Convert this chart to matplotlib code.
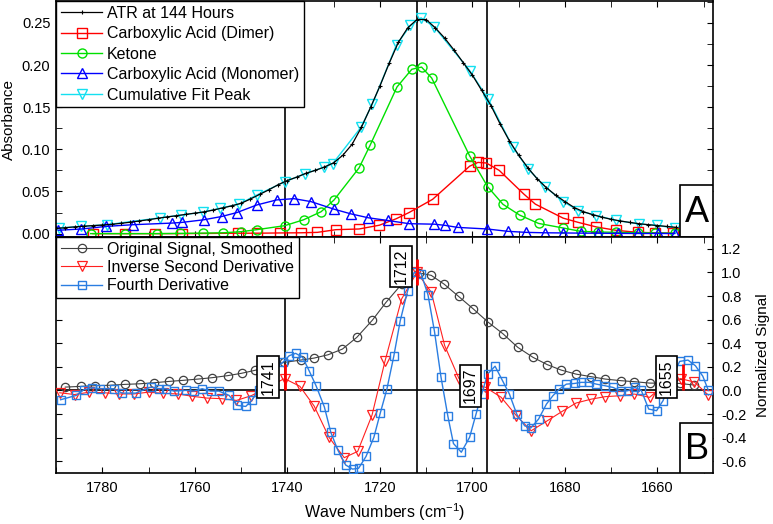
import matplotlib
matplotlib.use("Agg")
import matplotlib.pyplot as plt
from matplotlib.patches import Rectangle
from matplotlib.ticker import MultipleLocator

plt.rcParams["font.family"] = ["Liberation Sans", "DejaVu Sans"]
plt.rcParams["axes.unicode_minus"] = False
plt.rcParams["mathtext.fontset"] = "custom"
plt.rcParams["mathtext.rm"] = "Liberation Sans"
plt.rcParams["mathtext.default"] = "regular"

# ---------------- Panel A: ATR spectrum and peak fit ----------------
ATR_WN = [1790, 1788, 1786, 1784, 1782, 1780, 1778, 1776, 1774, 1772,
          1770, 1768, 1766, 1764, 1762, 1760, 1758, 1756, 1754, 1752,
          1750, 1748, 1746, 1744, 1742, 1740, 1738, 1736, 1734, 1732,
          1730, 1728, 1726, 1724, 1722, 1720, 1718, 1716, 1714, 1712,
          1710, 1708, 1706, 1704, 1702, 1700, 1698, 1696, 1694, 1692,
          1690, 1688, 1686, 1684, 1682, 1680, 1678, 1676, 1674, 1672,
          1670, 1668, 1666, 1664, 1662, 1660, 1658, 1656]
ATR_ABS = [0.0062, 0.0070, 0.0080, 0.0088, 0.0095, 0.0102, 0.0110, 0.0122, 0.0135, 0.0150,
           0.0165, 0.0182, 0.0198, 0.0212, 0.0228, 0.0243, 0.0258, 0.0280, 0.0305, 0.0330,
           0.0360, 0.0410, 0.0465, 0.0520, 0.0580, 0.0630, 0.0670, 0.0715, 0.0750, 0.0790,
           0.0840, 0.0930, 0.1060, 0.1260, 0.1500, 0.1750, 0.2020, 0.2270, 0.2440, 0.2540,
           0.2540, 0.2440, 0.2320, 0.2180, 0.2030, 0.1880, 0.1700, 0.1520, 0.1300, 0.1100,
           0.0930, 0.0780, 0.0650, 0.0545, 0.0455, 0.0380, 0.0310, 0.0260, 0.0225, 0.0195,
           0.0170, 0.0150, 0.0133, 0.0118, 0.0106, 0.0096, 0.0085, 0.0075]

DIMER_WN = [1782.0, 1775.1, 1768.6, 1762.8, 1750.6, 1746.6, 1741.6, 1737.1, 1733.5, 1729.5,
            1724.5, 1720.1, 1716.5, 1713.7, 1708.6, 1700.6, 1698.8, 1697.0, 1694.2, 1688.9,
            1686.4, 1680.4, 1677.1, 1673.2, 1668.9, 1664.2, 1660.6, 1656.6]
DIMER_ABS = [0.0, 0.0, 0.0, 0.0, 0.0005, 0.0005, 0.0008, 0.001, 0.0015, 0.0047,
             0.0055, 0.010, 0.0176, 0.025, 0.0407, 0.080, 0.0845, 0.0838, 0.075, 0.047,
             0.035, 0.0184, 0.0133, 0.0079, 0.0039, 0.0015, 0.001, 0.0005]

KETONE_WN = [1782.5, 1775.1, 1768.2, 1763.1, 1758.2, 1753.8, 1750.0, 1746.6, 1740.6, 1736.5,
             1732.7, 1729.9, 1724.5, 1722.1, 1716.3, 1713.1, 1711.0, 1708.8, 1700.6, 1696.7,
             1693.4, 1689.8, 1685.7, 1680.4, 1676.6, 1672.9, 1668.9, 1664.2, 1660.6, 1656.3]
KETONE_ABS = [0.0, 0.0, 0.0, 0.0003, 0.0006, 0.001, 0.0023, 0.0047, 0.0094, 0.0164,
              0.026, 0.040, 0.078, 0.105, 0.174, 0.195, 0.1976, 0.1846, 0.0923, 0.0556,
              0.0348, 0.022, 0.0121, 0.0067, 0.0027, 0.002, 0.0015, 0.001, 0.0008, 0.0005]

MONOMER_WN = [1789.5, 1784.5, 1779.1, 1773.3, 1765.0, 1762.8, 1758.1, 1754.2, 1750.9, 1746.6,
              1742.3, 1738.6, 1734.9, 1729.9, 1726.3, 1722.5, 1718.3, 1713.7, 1708.2, 1705.9,
              1703.2, 1696.8, 1692.3, 1688.4, 1684.4, 1680.4, 1676.5, 1672.9, 1668.5, 1664.2,
              1659.9, 1656.3]
MONOMER_ABS = [0.004, 0.0055, 0.0086, 0.0106, 0.0125, 0.0133, 0.0164, 0.0203, 0.025, 0.034,
               0.040, 0.0415, 0.038, 0.029, 0.0235, 0.0188, 0.0156, 0.0118, 0.0112, 0.0098,
               0.0074, 0.0055, 0.0027, 0.0015, 0.001, 0.0008, 0.0006, 0.0005, 0.0003, 0.0002,
               0.0002, 0.0001]

CUMUL_WN = [1789.4, 1784.6, 1779.0, 1767.6, 1763.0, 1758.2, 1754.6, 1750.5, 1746.6, 1740.6,
            1736.1, 1732.0, 1730.2, 1724.1, 1721.6, 1716.4, 1713.4, 1711.1, 1708.2, 1700.6,
            1696.6, 1691.3, 1688.0, 1684.3, 1680.4, 1677.1, 1673.2, 1668.9, 1663.9, 1660.2,
            1656.3]
CUMUL_ABS = [0.0067, 0.0086, 0.0106, 0.0187, 0.022, 0.0255, 0.030, 0.035, 0.0458, 0.0614,
             0.0712, 0.079, 0.083, 0.126, 0.154, 0.224, 0.247, 0.256, 0.245, 0.1935,
             0.1598, 0.103, 0.077, 0.0556, 0.038, 0.0274, 0.0215, 0.0156, 0.0114, 0.0098,
             0.0067]

# ---------------- Panel B: smoothed signal and derivatives ----------------
SMOOTH_WN = [1788.0, 1784.7, 1781.5, 1778.2, 1775.1, 1771.9, 1768.8, 1765.6, 1762.6, 1759.3,
             1756.2, 1752.9, 1749.9, 1747.0, 1743.8, 1740.7, 1737.1, 1734.2, 1731.2, 1728.1,
             1725.0, 1721.6, 1718.7, 1715.3, 1711.5, 1708.9, 1706.1, 1703.0, 1699.8, 1696.6,
             1693.4, 1690.2, 1686.9, 1683.8, 1680.8, 1677.6, 1674.3, 1671.3, 1667.8, 1665.0,
             1661.7, 1658.5, 1655.2, 1652.0]
SMOOTH_SIG = [0.028, 0.034, 0.040, 0.044, 0.051, 0.056, 0.065, 0.076, 0.085, 0.096,
              0.108, 0.125, 0.145, 0.170, 0.205, 0.237, 0.257, 0.274, 0.302, 0.350,
              0.449, 0.596, 0.745, 0.900, 0.995, 0.975, 0.900, 0.797, 0.690, 0.578,
              0.480, 0.365, 0.280, 0.218, 0.172, 0.138, 0.116, 0.096, 0.082, 0.074,
              0.062, 0.060, 0.059, 0.045]

D2_WN = [1789.2, 1786.0, 1782.8, 1779.5, 1776.3, 1773.2, 1770.0, 1766.9, 1763.7, 1760.5,
         1757.4, 1754.2, 1751.0, 1747.8, 1744.2, 1740.6, 1737.3, 1734.2, 1731.0, 1727.7,
         1724.8, 1721.7, 1718.9, 1715.3, 1712.0, 1708.9, 1706.0, 1702.9, 1700.0, 1697.2,
         1693.8, 1690.5, 1687.3, 1683.8, 1680.6, 1677.6, 1674.3, 1671.3, 1668.0, 1665.0,
         1661.7, 1658.5, 1655.0, 1652.0, 1649.0]
D2_SIG = [-0.020, -0.035, -0.015, -0.020, -0.030, -0.030, -0.015, -0.025, -0.030, -0.050,
          -0.065, -0.070, -0.085, -0.045, 0.030, 0.100, 0.035, -0.133, -0.397, -0.570,
          -0.517, -0.210, 0.247, 0.775, 1.000, 0.833, 0.380, 0.100, 0.050, 0.027,
          -0.058, -0.214, -0.342, -0.257, -0.178, -0.107, -0.074, -0.053, -0.045, -0.031,
          -0.059, 0.050, 0.100, 0.070, -0.040]

D4_WN = [1789.0, 1785.6, 1784.0, 1782.2, 1780.4, 1777.5, 1775.7, 1772.8, 1769.5, 1767.7,
         1766.3, 1764.5, 1762.0, 1760.2, 1758.4, 1756.6, 1754.8, 1752.6, 1750.8, 1749.0,
         1747.7, 1746.2, 1744.6, 1742.8, 1741.0, 1739.6, 1738.2, 1736.7, 1735.3, 1733.8,
         1732.0, 1730.6, 1729.1, 1727.4, 1725.9, 1724.6, 1723.0, 1721.3, 1719.9, 1718.5,
         1717.0, 1715.6, 1714.0, 1712.6, 1711.1, 1709.6, 1708.2, 1706.8, 1705.3, 1704.1,
         1702.4, 1700.6, 1699.2, 1698.0, 1696.7, 1695.1, 1693.5, 1692.0, 1690.4, 1688.7,
         1687.4, 1685.7, 1684.0, 1682.6, 1681.2, 1679.7, 1677.9, 1676.5, 1674.7, 1673.2,
         1671.4, 1669.6, 1667.8, 1666.4, 1664.9, 1663.5, 1661.9, 1660.2, 1658.8, 1657.0,
         1655.2, 1653.4, 1651.8, 1650.2, 1649.0]
D4_SIG = [-0.079, -0.042, 0.006, 0.023, 0.014, 0.014, -0.023, -0.023, 0.028, 0.014,
          0.014, -0.006, 0.000, -0.006, 0.014, -0.006, -0.006, -0.042, -0.127, -0.136,
          -0.085, 0.000, 0.100, 0.180, 0.237, 0.294, 0.314, 0.280, 0.167, 0.040,
          -0.140, -0.356, -0.505, -0.632, -0.667, -0.660, -0.560, -0.398, -0.190, 0.008,
          0.288, 0.590, 0.845, 1.000, 0.990, 0.810, 0.500, 0.115, -0.220, -0.450,
          -0.524, -0.397, -0.198, -0.030, 0.140, 0.205, 0.083, -0.031, -0.203, -0.300,
          -0.319, -0.243, -0.116, -0.045, 0.011, 0.053, 0.059, 0.068, 0.068, 0.053,
          0.040, 0.025, -0.008, -0.003, 0.025, 0.000, -0.158, -0.172, -0.087, 0.100,
          0.246, 0.257, 0.209, 0.120, 0.000]

# identified peaks (position, second-derivative value, label)
PEAK_POS = [1740.6, 1711.9, 1696.9, 1654.5]
PEAK_SIG = [0.11, 1.00, 0.035, 0.11]
PEAK_LABEL_Y = [0.11, 1.05, 0.04, 0.11]
PEAK_LABELS = ["1741", "1712", "1697", "1655"]
GUIDE_LINES = [1740.6, 1711.9, 1696.9]

W, H = 773, 524
fig = plt.figure(figsize=(W / 100, H / 100), dpi=100)
left, right = 56 / W, 713 / W
ax1 = fig.add_axes([left, 1 - 237 / H, right - left, 236 / H])
ax2 = fig.add_axes([left, 1 - 473 / H, right - left, 236 / H], sharex=ax1)

# ---- top panel
mk = dict(mfc="none", ms=6.5, mew=1.0, lw=1.0)
for x in GUIDE_LINES:
    ax1.axvline(x, color="black", lw=1.2, zorder=1)
h_cum, = ax1.plot(CUMUL_WN, CUMUL_ABS, color="#14e0f0", marker="v", label="Cumulative Fit Peak", zorder=2, **mk)
h_atr, = ax1.plot(ATR_WN, ATR_ABS, color="black", marker="+", ms=3.5, mew=0.8, lw=0.9,
                  label="ATR at 144 Hours", zorder=3)
h_dim, = ax1.plot(DIMER_WN, DIMER_ABS, color="#ff0000", marker="s", label="Carboxylic Acid (Dimer)", zorder=2, **mk)
h_ket, = ax1.plot(KETONE_WN, KETONE_ABS, color="#00e000", marker="o", label="Ketone", zorder=2, **mk)
h_mon, = ax1.plot(MONOMER_WN, MONOMER_ABS, color="#0000ff", marker="^", label="Carboxylic Acid (Monomer)", zorder=2, **mk)

ax1.set_xlim(1790, 1648)
ax1.set_ylim(-0.004, 0.276)
ax1.yaxis.set_major_locator(MultipleLocator(0.05))
ax1.yaxis.set_minor_locator(MultipleLocator(0.025))
ax1.xaxis.set_major_locator(MultipleLocator(20))
ax1.xaxis.set_minor_locator(MultipleLocator(10))
ax1.yaxis.set_major_formatter(plt.FuncFormatter(lambda v, p: f"{v:.2f}"))
ax1.tick_params(which="both", direction="in", top=True, right=True, labelbottom=False,
                labelsize=10.5, pad=4)
ax1.tick_params(which="major", length=4)
ax1.tick_params(which="minor", length=4)
ax1.set_ylabel("Absorbance", fontsize=11)

leg1 = ax1.legend(handles=[h_atr, h_dim, h_ket, h_mon, h_cum], loc="upper left",
                  bbox_to_anchor=(0, 1), borderaxespad=0, fontsize=11.5, frameon=True,
                  fancybox=False, framealpha=1, edgecolor="black", handlelength=2.6,
                  handletextpad=0.3, borderpad=0.3, labelspacing=0.34)
leg1.get_frame().set_linewidth(1.0)
leg1.set_zorder(6)

ax1.add_patch(Rectangle((0.950, 0.0), 0.05, 0.219, transform=ax1.transAxes,
                        facecolor="white", edgecolor="black", lw=1.2, zorder=7))
ax1.text(0.975, 0.105, "A", transform=ax1.transAxes, ha="center", va="center",
         fontsize=26, zorder=8)

# ---- bottom panel
for x in GUIDE_LINES:
    ax2.axvline(x, color="black", lw=1.2, zorder=1)
ax2.axhline(0, color="black", lw=1.2, zorder=1)
h_sm, = ax2.plot(SMOOTH_WN, SMOOTH_SIG, color="#404040", marker="o", mfc="none", ms=6,
                 mew=0.9, lw=0.8, label="Original Signal, Smoothed", zorder=2)
h_d2, = ax2.plot(D2_WN, D2_SIG, color="#ff2020", marker="v", mfc="none", ms=6.5,
                 mew=0.9, lw=0.8, label="Inverse Second Derivative", zorder=3)
h_d4, = ax2.plot(D4_WN, D4_SIG, color="#2a7de1", marker="s", mfc="none", ms=6,
                 mew=1.0, lw=1.0, label="Fourth Derivative", zorder=4)

ax2.errorbar(PEAK_POS, PEAK_SIG, yerr=0.11, fmt="none", ecolor="#ff0000",
             elinewidth=2.0, capsize=0, zorder=5)
for pos, y, lab in zip(PEAK_POS, PEAK_LABEL_Y, PEAK_LABELS):
    ax2.annotate(lab, xy=(pos, y), xytext=(-6.5, 0), textcoords="offset points",
                 rotation=90, ha="right", va="center", fontsize=11.5, zorder=7,
                 bbox=dict(boxstyle="square,pad=0.2", fc="white", ec="black", lw=1.2))

ax2.set_ylim(-0.70, 1.30)
ax2.yaxis.set_major_locator(MultipleLocator(0.2))
ax2.yaxis.set_major_formatter(plt.FuncFormatter(lambda v, p: f"{v:.1f}"))
ax2.yaxis.tick_right()
ax2.yaxis.set_label_position("right")
ax2.tick_params(which="both", direction="in", top=True, left=True, right=True,
                labelleft=False, labelright=True, labelsize=10.5)
ax2.tick_params(axis="y", pad=6)
ax2.tick_params(axis="x", pad=6)
ax2.tick_params(which="major", length=4)
ax2.tick_params(which="minor", length=4)
ax2.set_ylabel("Normalized Signal", fontsize=11, labelpad=7)
ax2.set_xlabel("Wave Numbers (cm$^{-1}$)", fontsize=11.5, labelpad=4.5)

leg2 = ax2.legend(handles=[h_sm, h_d2, h_d4], loc="upper left", bbox_to_anchor=(0, 1),
                  borderaxespad=0, fontsize=11.5, frameon=True, fancybox=False,
                  framealpha=1, edgecolor="black", handlelength=2.6, handletextpad=0.3,
                  borderpad=0.3, labelspacing=0.2)
leg2.get_frame().set_linewidth(1.0)
leg2.set_zorder(8)

ax2.add_patch(Rectangle((0.950, 0.0), 0.05, 0.213, transform=ax2.transAxes,
                        facecolor="white", edgecolor="black", lw=1.2, zorder=7))
ax2.text(0.975, 0.1, "B", transform=ax2.transAxes, ha="center", va="center",
         fontsize=26, zorder=8)

for ax in (ax1, ax2):
    for s in ax.spines.values():
        s.set_linewidth(1.2)

fig.savefig("out.png", dpi=100)
